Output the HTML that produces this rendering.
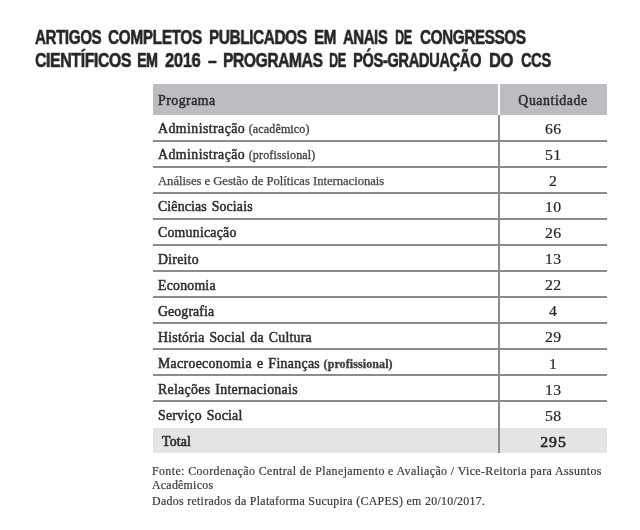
<!DOCTYPE html>
<html><head><meta charset="utf-8">
<style>
*{margin:0;padding:0;box-sizing:border-box}
html,body{width:640px;height:530px;background:#fff;overflow:hidden}
body{position:relative;font-family:"Liberation Serif",serif;color:#2e2e2e}
.t{position:absolute;will-change:transform;left:34px;letter-spacing:-0.5px;font-family:"Liberation Sans",sans-serif;font-weight:bold;font-size:19.5px;line-height:20px;color:#262626;-webkit-text-stroke:0.55px #262626;white-space:nowrap;transform-origin:0 0}
.hd{position:absolute;left:153px;top:84px;width:454px;height:31px;background:#bcbdc1}
.tot{position:absolute;left:153px;top:428px;width:454px;height:25px;background:#e4e4e6}
.vl{position:absolute;left:498px;top:84px;width:2px;height:31px;background:#fff}
.vb{position:absolute;left:498px;top:115px;width:2px;height:338px;background:#8c8c8e}
.hl{position:absolute;left:153px;width:454px;height:2px;background:#8c8c8e}
.c1{position:absolute;will-change:transform;left:158px;white-space:nowrap;font-size:13.8px;line-height:20px;font-weight:normal}
.m{-webkit-text-stroke:0.5px #2e2e2e;word-spacing:1.2px}
.p{font-size:12px;font-weight:normal;color:#3e3e3e;letter-spacing:0.15px;-webkit-text-stroke:0.3px #3e3e3e;word-spacing:0}
.pb{font-weight:bold;letter-spacing:0.1px}
.an{font-size:12.6px;font-weight:normal;color:#444444;letter-spacing:0;-webkit-text-stroke:0.25px #444444}
.c2{position:absolute;will-change:transform;left:500px;width:106px;text-align:center;font-size:14.6px;line-height:20px;color:#262626;letter-spacing:0.4px;text-indent:0.4px;transform:scaleX(1.08);-webkit-text-stroke:0.2px #262626}
.ft{position:absolute;will-change:transform;left:152px;font-size:11.9px;line-height:14px;color:#3a3a3a;-webkit-text-stroke:0.2px #3a3a3a;white-space:nowrap}
</style></head><body>
<div class="t" style="top:26.5px;left:34.5px;transform:scaleX(0.7762)">ARTIGOS</div>
<div class="t" style="top:26.5px;left:108.0px;transform:scaleX(0.7899)">COMPLETOS</div>
<div class="t" style="top:26.5px;left:208.75px;transform:scaleX(0.7875)">PUBLICADOS</div>
<div class="t" style="top:26.5px;left:313.75px;transform:scaleX(0.7759)">EM</div>
<div class="t" style="top:26.5px;left:342.5px;transform:scaleX(0.7627)">ANAIS</div>
<div class="t" style="top:26.5px;left:395.0px;transform:scaleX(0.6481)">DE</div>
<div class="t" style="top:26.5px;left:420.0px;transform:scaleX(0.7837)">CONGRESSOS</div>
<div class="t" style="top:49.5px;left:34.5px;transform:scaleX(0.8144)">CIENTÍFICOS</div>
<div class="t" style="top:49.5px;left:137.0px;transform:scaleX(0.7276)">EM</div>
<div class="t" style="top:49.5px;left:165.4px;transform:scaleX(0.8548)">2016</div>
<div class="t" style="top:49.5px;left:207.5px;transform:scaleX(0.7955)">–</div>
<div class="t" style="top:49.5px;left:222.5px;transform:scaleX(0.8)">PROGRAMAS</div>
<div class="t" style="top:49.5px;left:328.75px;transform:scaleX(0.6481)">DE</div>
<div class="t" style="top:49.5px;left:352.5px;transform:scaleX(0.7529)">PÓS-GRADUAÇÃO</div>
<div class="t" style="top:49.5px;left:488.75px;transform:scaleX(0.85)">DO</div>
<div class="t" style="top:49.5px;left:521.25px;transform:scaleX(0.75)">CCS</div>
<div class="hd"></div>
<div class="tot"></div>
<div class="vl"></div>
<div class="vb"></div>
<div class="hl" style="top:140px"></div>
<div class="hl" style="top:166px"></div>
<div class="hl" style="top:192px"></div>
<div class="hl" style="top:218px"></div>
<div class="hl" style="top:244px"></div>
<div class="hl" style="top:270px"></div>
<div class="hl" style="top:296px"></div>
<div class="hl" style="top:322px"></div>
<div class="hl" style="top:348px"></div>
<div class="hl" style="top:374px"></div>
<div class="hl" style="top:400px"></div>
<div class="c1" style="top:90.74px;font-size:13.8px"><span class="m" style="letter-spacing:0.51px">Programa</span></div>
<div class="c2" style="top:90.74px;font-size:13.8px;letter-spacing:0.57px;text-indent:0;transform:none;-webkit-text-stroke:0.5px #2e2e2e;color:#2e2e2e;font-family:'Liberation Serif'">Quantidade</div>
<div class="c1" style="top:119.04px"><span class="m" style="letter-spacing:0.462px">Administração</span> <span class='p'>(acadêmico)</span></div>
<div class="c2" style="top:118.67px">66</div>
<div class="c1" style="top:145.14px"><span class="m" style="letter-spacing:0.462px">Administração</span> <span class='p'>(profissional)</span></div>
<div class="c2" style="top:144.77px">51</div>
<div class="c1" style="top:171.24px"><span class='an'>Análises e Gestão de Políticas Internacionais</span></div>
<div class="c2" style="top:170.87px">2</div>
<div class="c1" style="top:197.34px"><span class="m" style="letter-spacing:0.167px">Ciências Sociais</span></div>
<div class="c2" style="top:196.97px">10</div>
<div class="c1" style="top:223.44px"><span class="m" style="letter-spacing:0.25px">Comunicação</span></div>
<div class="c2" style="top:223.07px">26</div>
<div class="c1" style="top:249.54px"><span class="m" style="letter-spacing:0.246px">Direito</span></div>
<div class="c2" style="top:249.17px">13</div>
<div class="c1" style="top:275.64px"><span class="m" style="letter-spacing:0.226px">Economia</span></div>
<div class="c2" style="top:275.27px">22</div>
<div class="c1" style="top:301.74px"><span class="m" style="letter-spacing:0.125px">Geografia</span></div>
<div class="c2" style="top:301.37px">4</div>
<div class="c1" style="top:327.84px"><span class="m" style="letter-spacing:0.258px">História Social da Cultura</span></div>
<div class="c2" style="top:327.47px">29</div>
<div class="c1" style="top:353.94px"><span class="m" style="letter-spacing:0.332px">Macroeconomia e Finanças</span> <span class='p pb'>(profissional)</span></div>
<div class="c2" style="top:353.57px">1</div>
<div class="c1" style="top:380.04px"><span class="m" style="letter-spacing:0.316px">Relações Internacionais</span></div>
<div class="c2" style="top:379.67px">13</div>
<div class="c1" style="top:406.14px"><span class="m" style="letter-spacing:0.23px">Serviço Social</span></div>
<div class="c2" style="top:405.77px">58</div>
<div class="c1" style="top:431.84px;left:162px"><span class="m" style="letter-spacing:0.2px;-webkit-text-stroke-width:0.6px">Total</span></div>
<div class="c2" style="top:431.57px;letter-spacing:0.9px;text-indent:0.9px;-webkit-text-stroke-width:0.55px">295</div>
<div class="ft" style="top:463.78px;letter-spacing:0.4px">Fonte: Coordenação Central de Planejamento e Avaliação / Vice-Reitoria para Assuntos</div>
<div class="ft" style="top:477.68px;letter-spacing:0.25px">Acadêmicos</div>
<div class="ft" style="top:494.08px;letter-spacing:0.3px">Dados retirados da Plataforma Sucupira (CAPES) em 20/10/2017.</div>
</body></html>
